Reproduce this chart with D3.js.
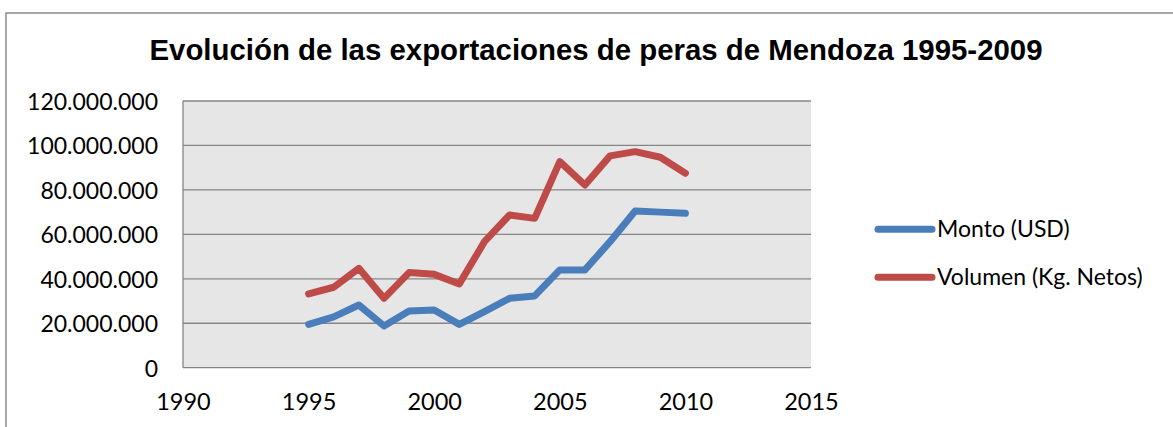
<!DOCTYPE html>
<html><head><meta charset="utf-8">
<script src="https://cdn.jsdelivr.net/npm/d3@7"></script>
<style>body{margin:0;background:#fff}svg{display:block}</style>
</head><body>
<svg id="c" width="1173" height="427"></svg>
<script>
const years = [1995,1996,1997,1998,1999,2000,2001,2002,2003,2004,2005,2006,2007,2008,2009,2010];
const monto = [19.5,22.9,28.2,18.8,25.5,26.0,19.5,25.2,31.2,32.3,44.0,44.0,56.7,70.5,70.0,69.5].map(v=>v*1e6);
const volumen = [33.2,36.2,44.7,31.2,42.8,42.0,37.7,56.7,68.7,67.2,92.7,82.2,95.3,97.2,94.7,87.5].map(v=>v*1e6);
const xTicks = [1990,1995,2000,2005,2010,2015];
const yTicks = [0,20e6,40e6,60e6,80e6,100e6,120e6];
const seriesNames = ["Monto (USD)","Volumen (Kg. Netos)"];
const colors = ["#4a7ebb","#be4b48"];
const title = "Evolución de las exportaciones de peras de Mendoza 1995-2009";

const svg = d3.select("#c");
const fmt = v => v===0 ? "0" : d3.format(",")(v).replace(/,/g,".");

svg.append("rect").attr("x",6).attr("y",13).attr("width",1200).attr("height",450)
  .attr("fill","none").attr("stroke","#8c8c8c").attr("stroke-width",1.5);

const L=183, R=811, T=101, B=367.7;
const x = d3.scaleLinear().domain([1990,2015]).range([L,R]);
const y = d3.scaleLinear().domain([0,120e6]).range([B,T]);

svg.append("rect").attr("x",L).attr("y",T).attr("width",R-L).attr("height",B-T).attr("fill","#e6e6e6");

svg.append("g").selectAll("line").data(yTicks).join("line")
  .attr("x1",L).attr("x2",R).attr("y1",d=>y(d)).attr("y2",d=>y(d))
  .attr("stroke","#868686").attr("stroke-width",1.3);
svg.append("line").attr("x1",L).attr("x2",L).attr("y1",T).attr("y2",B).attr("stroke","#868686").attr("stroke-width",1.3);

const yAxis = svg.append("g").attr("transform",`translate(${L-25},1)`)
  .call(d3.axisLeft(y).tickValues(yTicks).tickFormat(fmt).tickSize(0).tickPadding(0));
yAxis.select(".domain").remove();
yAxis.selectAll("text").attr("font-family","Lato, 'Open Sans', sans-serif").attr("font-size",23).attr("fill","#000");

const xAxis = svg.append("g").attr("transform",`translate(0,${B+26})`)
  .call(d3.axisBottom(x).tickValues(xTicks).tickFormat(d3.format("d")).tickSize(0).tickPadding(0));
xAxis.select(".domain").remove();
xAxis.selectAll("text").attr("font-family","Lato, 'Open Sans', sans-serif").attr("font-size",23.5).attr("fill","#000");

const line = d3.line().x((d,i)=>x(years[i])).y(d=>y(d));
[monto, volumen].forEach((s,k)=>{
  svg.append("path").datum(s).attr("d",line).attr("fill","none")
    .attr("stroke",colors[k]).attr("stroke-width",7).attr("stroke-linejoin","round").attr("stroke-linecap","round");
});

const lg = svg.append("g");
seriesNames.forEach((n,k)=>{
  const yy = 229.3 + k*48;
  lg.append("line").attr("x1",878).attr("x2",932).attr("y1",yy).attr("y2",yy)
    .attr("stroke",colors[k]).attr("stroke-width",7).attr("stroke-linecap","round");
  lg.append("text").attr("x",937).attr("y",yy).attr("dy","0.35em").text(n)
    .attr("font-family","Lato, 'Open Sans', sans-serif").attr("font-size",23).attr("fill","#000");
});

svg.append("text").attr("x",596).attr("y",60).attr("text-anchor","middle").text(title)
  .attr("font-family","'Liberation Sans', Arial, sans-serif").attr("font-weight","bold").attr("font-size",30)
  .attr("textLength",893).attr("lengthAdjust","spacingAndGlyphs").attr("fill","#000");
</script>
</body></html>
